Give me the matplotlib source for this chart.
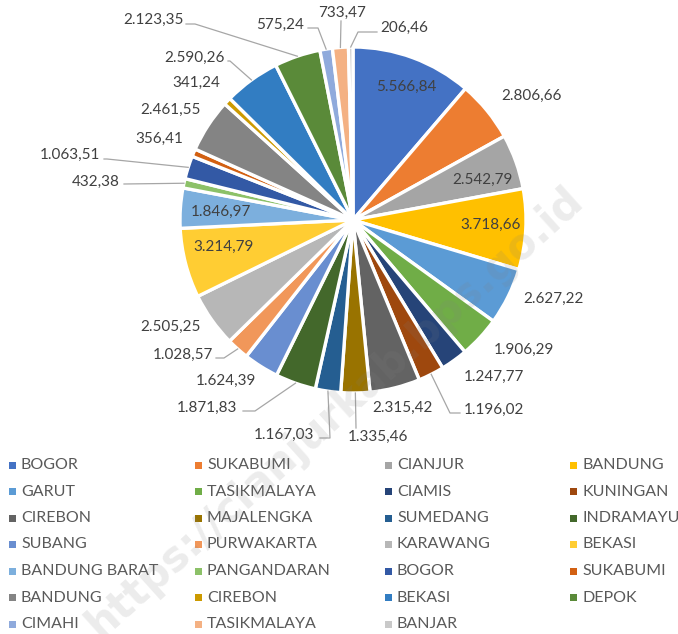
import numpy as np
import matplotlib.pyplot as plt
from matplotlib.patches import Rectangle

# luas wilayah per kabupaten/kota (clockwise from 12 o'clock)
regions = ["BOGOR", "SUKABUMI", "CIANJUR", "BANDUNG", "GARUT", "TASIKMALAYA",
           "CIAMIS", "KUNINGAN", "CIREBON", "MAJALENGKA", "SUMEDANG", "INDRAMAYU",
           "SUBANG", "PURWAKARTA", "KARAWANG", "BEKASI", "BANDUNG BARAT", "PANGANDARAN",
           "BOGOR", "SUKABUMI", "BANDUNG", "CIREBON", "BEKASI", "DEPOK",
           "CIMAHI", "TASIKMALAYA", "BANJAR"]
values = [5566.84, 2806.66, 2542.79, 3718.66, 2627.22, 1906.29,
          1247.77, 1196.02, 2315.42, 1335.46, 1167.03, 1871.83,
          1624.39, 1028.57, 2505.25, 3214.79, 1846.97, 432.38,
          1063.51, 356.41, 2461.55, 341.24, 2590.26, 2123.35,
          575.24, 733.47, 206.46]
colors = ["#4472C4", "#ED7D31", "#A5A5A5", "#FFC000", "#5B9BD5", "#70AD47",
          "#264478", "#9E480E", "#636363", "#997300", "#255E91", "#43682B",
          "#698ED0", "#F1975A", "#B7B7B7", "#FFCD33", "#7CAFDD", "#8CC168",
          "#3359A5", "#D26012", "#848484", "#CC9A00", "#327DC2", "#5A8A39",
          "#8FAADC", "#F4B183", "#C9C9C9"]

# label centres in pixels (x, y from top), as placed in the original chart
label_xy = [(406, 87), (531, 96), (482, 180), (491, 225), (553, 299), (524, 350),
            (494, 377), (494, 410), (402, 408), (378, 437), (284, 435), (207, 408),
            (226, 381), (183, 355), (170, 327), (224, 247), (221, 212), (96, 182),
            (70, 155), (159, 139), (170, 110), (196, 83), (194, 58), (153, 20),
            (280, 25), (342, 13), (404, 28)]
# leader lines: slice index -> (elbow, end) in pixels
leaders = {7: ((450, 413), (460, 413)), 9: ((356, 428), (356, 428)),
           10: ((330, 438), (320, 438)), 11: ((255, 411), (243, 411)),
           13: ((224, 358), (216, 358)), 17: ((124, 184), (124, 184)),
           18: ((107, 159), (104, 159)), 22: ((230, 61), (228, 61)),
           23: ((195, 24), (186, 24)), 24: ((318, 28), (308, 28)),
           25: ((341, 21), (341, 21)), 26: ((358, 32), (377, 32))}

plt.rcParams['font.family'] = ['Lato', 'DejaVu Sans']

W, H = 678, 634
fig = plt.figure(figsize=(W / 100, H / 100), dpi=100)
ax = fig.add_axes([0, 0, 1, 1])


def fy(y):
    return H - y


def fmt(v):
    return f"{v:,.2f}".replace(",", "X").replace(".", ",").replace("X", ".")


cx, cy, R = 353, 220, 173
wedges, _ = ax.pie(values, colors=colors, startangle=90, counterclock=False,
                   center=(cx, fy(cy)), radius=R,
                   wedgeprops=dict(edgecolor="white", linewidth=2.4))

for i, (w, v) in enumerate(zip(wedges, values)):
    x, y = label_xy[i]
    ax.text(x, fy(y), fmt(v), ha="center", va="center", fontsize=11, color="#404040", zorder=5)
    if i in leaders:
        mid = np.deg2rad((w.theta1 + w.theta2) / 2)
        sx, sy = cx + R * np.cos(mid), fy(cy) + R * np.sin(mid)
        (ex, ey), (tx, ty) = leaders[i]
        ax.plot([sx, ex, tx], [sy, fy(ey), fy(ty)], color="#A6A6A6", lw=0.9, zorder=4)

# watermark
ax.text(335, fy(412), "https://cianjurkab.bps.go.id", rotation=42, fontsize=30,
        weight="bold", color="#7F7F7F", alpha=0.15, ha="center", va="center",
        family="DejaVu Sans", zorder=10)

# legend, row-wise in 4 columns
col_x = [9, 195, 385, 570]
for i, name in enumerate(regions):
    mx = col_x[i % 4]
    y = fy(465 + 26.5 * (i // 4))
    ax.add_patch(Rectangle((mx, y - 3.5), 7, 7, color=colors[i], lw=0))
    ax.text(mx + 12, y, name, ha="left", va="center", fontsize=11.5, color="#595959")

ax.set_xlim(0, W)
ax.set_ylim(0, H)
ax.axis("off")
fig.savefig("out.png", dpi=100)
